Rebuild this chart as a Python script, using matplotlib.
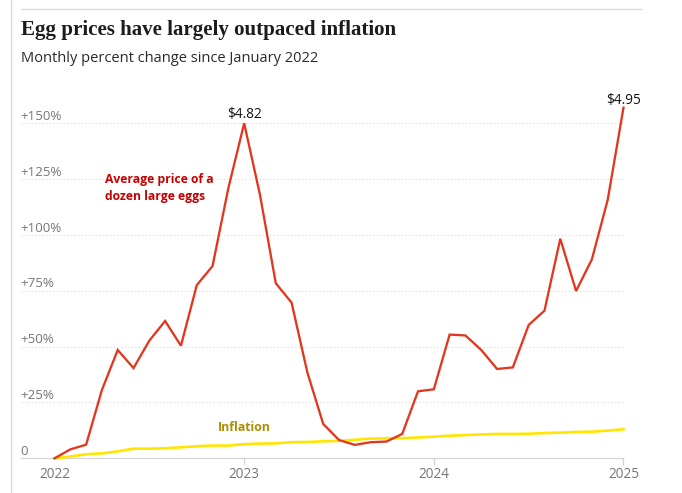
import matplotlib
matplotlib.use("Agg")
import matplotlib.pyplot as plt
from matplotlib.lines import Line2D

W, H = 682, 493

eggs = [0, 4, 6.1, 30.6, 48.5, 40.4, 52.7, 61.5, 50.4, 77.5, 86.1, 121,
        150, 118, 78.4, 69.7, 38.4, 15.4, 8.2, 6, 7.2, 7.5, 10.9, 30,
        30.9, 55.4, 55, 48.5, 40, 40.7, 59.7, 66.1, 98.3, 74.9, 89.1, 115.7,
        157]
inflation = [0, 0.8, 1.8, 2.2, 3.1, 4.3, 4.3, 4.5, 4.9, 5.4, 5.7, 5.7,
             6.3, 6.6, 6.7, 7.2, 7.3, 7.6, 7.8, 8.3, 8.8, 9, 9, 9.3,
             9.7, 10.1, 10.4, 10.7, 10.9, 10.9, 11, 11.3, 11.5, 11.8, 11.9, 12.4,
             13]
months = list(range(len(eggs)))
y_ticks = [0, 25, 50, 75, 100, 125, 150]
y_labels = ["0", "+25%", "+50%", "+75%", "+100%", "+125%", "+150%"]
x_ticks = [0, 12, 24, 36]
x_labels = ["2022", "2023", "2024", "2025"]

SANS = "Open Sans"
GREY = "#767676"
fig = plt.figure(figsize=(W / 100, H / 100), dpi=100, facecolor="white")

left, right, top, bottom = 21, 623.5, 100, 458.3
ax = fig.add_axes([left / W, 1 - bottom / H, (right - left) / W, (bottom - top) / H])
ax.patch.set_alpha(0)
px_m = (623.5 - 54.5) / 36
px_v = (458.3 - 123.3) / 150
ax.set_xlim(-(54.5 - left) / px_m, 36)
ax.set_ylim(0, (bottom - top) / px_v)
for s in ("top", "right", "left"):
    ax.spines[s].set_visible(False)
ax.spines["bottom"].set_color("#d4d4d4")
ax.spines["bottom"].set_linewidth(0.9)

ax.set_yticks(y_ticks[1:])
ax.set_yticklabels([])
ax.tick_params(axis="y", length=0)
ax.grid(axis="y", color="#d8d8d8", linewidth=0.8, linestyle=(0, (1, 2.2)))
ax.set_axisbelow(True)
ax.set_xticks(x_ticks)
ax.set_xticklabels(x_labels, fontsize=9.8, color=GREY, family=SANS)
ax.tick_params(axis="x", length=5, width=0.9, color="#d4d4d4", pad=1.5)
ax.xaxis.get_major_ticks()[0].tick1line.set_visible(False)

for v, lab in zip(y_ticks, y_labels):
    ax.annotate(lab, xy=(0, v), xycoords=("axes fraction", "data"), xytext=(-0.5, 5),
                textcoords="offset points", fontsize=9.6, color=GREY, family=SANS,
                ha="left", va="center", annotation_clip=False)

ax.plot(months, inflation, color="#ffe500", linewidth=1.9, solid_joinstyle="round", clip_on=False, zorder=3)
ax.plot(months, eggs, color="#e3361f", linewidth=1.65, solid_joinstyle="miter", clip_on=False, zorder=4)

ax.text(12, 150.5, "$4.82", fontsize=9.8, color="#121212", family=SANS, ha="center", va="bottom")
ax.text(36, 156.7, "$4.95", fontsize=9.8, color="#121212", family=SANS, ha="center", va="bottom", clip_on=False)
ax.text(3.17, 121.2, "Average price of a\ndozen large eggs", fontsize=8.7, fontweight="bold", color="#c70000",
        family=SANS, ha="left", va="center", linespacing=1.42)
ax.text(12, 13.8, "Inflation", fontsize=8.8, fontweight="bold", color="#b08d00", family=SANS,
        ha="center", va="center")

fig.text(21 / W, 1 - 30.5 / H, "Egg prices have largely outpaced inflation", fontsize=15.15, fontweight="bold",
         family="Liberation Serif", color="#1c1c1c", ha="left", va="center")
fig.text(21 / W, 1 - 58.8 / H, "Monthly percent change since January 2022", fontsize=10.5, family=SANS,
         color="#2a2a2a", ha="left", va="center")

fig.add_artist(Line2D([21 / W, 641 / W], [1 - 8.5 / H] * 2, color="#dcdcdc", linewidth=1))
fig.add_artist(Line2D([10.7 / W] * 2, [0, 1], color="#dcdcdc", linewidth=1))

fig.savefig("out.png", dpi=100)
